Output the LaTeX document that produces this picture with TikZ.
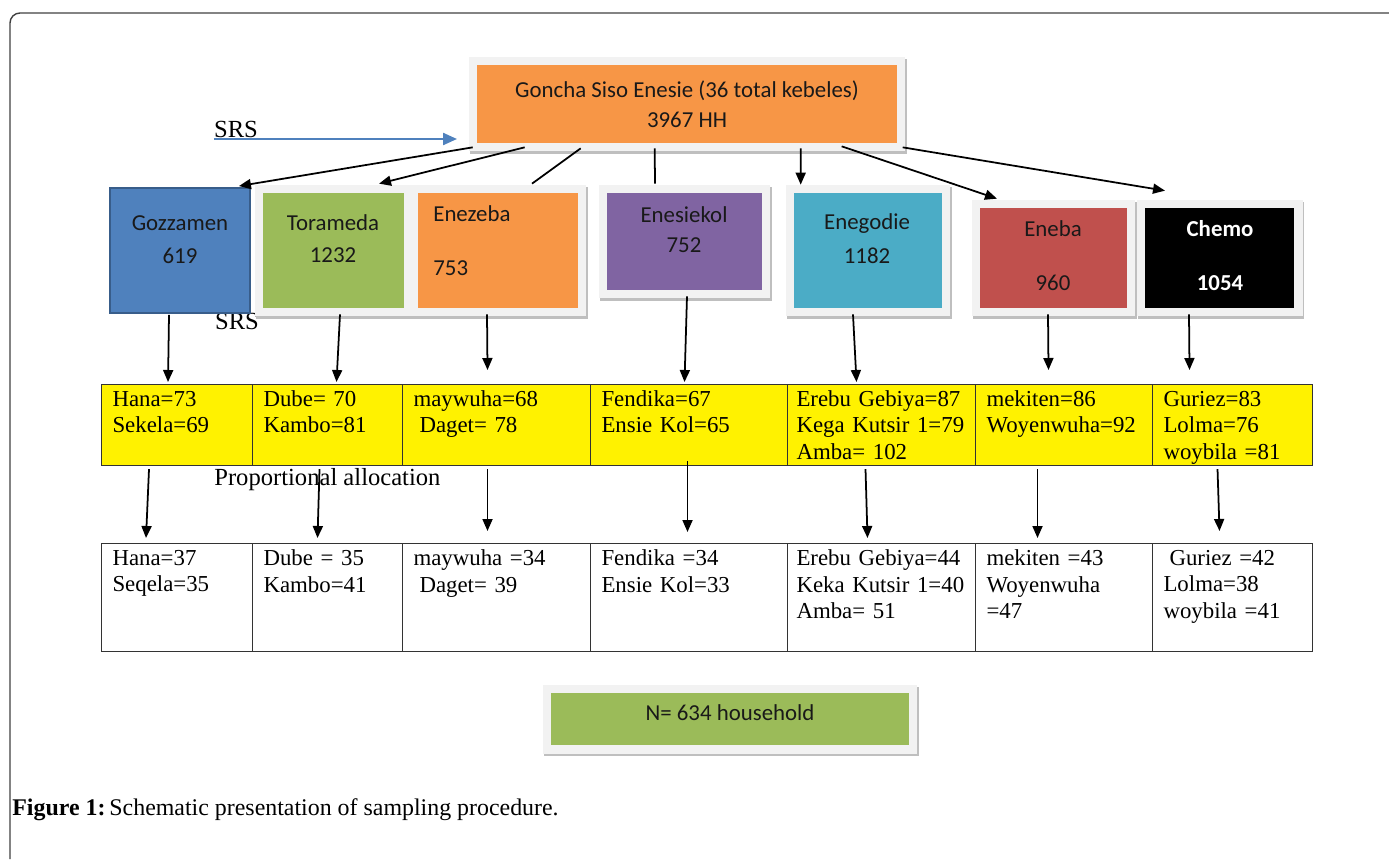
\documentclass[tikz,border=0pt]{standalone}
\usepackage{fontspec}
\setmainfont{Liberation Serif}
\newfontfamily\boxfont{Carlito}
\usetikzlibrary{arrows.meta,calc,positioning}

\definecolor{offorange}{HTML}{F79646}
\definecolor{offblue}{HTML}{4F81BD}
\definecolor{offblueline}{HTML}{385D8A}
\definecolor{offgreen}{HTML}{9BBB59}
\definecolor{offpurple}{HTML}{8064A2}
\definecolor{offcyan}{HTML}{4BACC6}
\definecolor{offred}{HTML}{C0504D}

\tikzset{
  kbox/.style={rectangle, inner sep=0pt,
    preaction={draw=black!25, line width=0.34cm, transform canvas={xshift=0.03cm,yshift=-0.05cm}},
    preaction={draw=black!5, line width=0.34cm}},
  ktxt/.style={font=\boxfont\fontsize{13}{16}\selectfont, text=black!90, align=center, inner sep=0pt},
  lbl/.style={font=\fontsize{14}{16}\selectfont, inner sep=0pt},
  ycell/.style={draw=black!80, line width=0.6pt, fill=yellow, anchor=north west, align=left,
    inner xsep=0.22cm, inner ysep=0pt, font=\fontsize{13}{15.1}\selectfont, minimum height=1.62cm},
  wcell/.style={ycell, fill=white, minimum height=2.16cm},
  arr/.style={-{Triangle[length=0.24cm,width=0.2cm]}, line width=1pt},
  srsarr/.style={-{Triangle[length=0.28cm,width=0.24cm]}, line width=1.3pt, draw=offblue},
}

\begin{document}
\begin{tikzpicture}[x=0.02cm, y=-0.02cm]
\useasboundingbox (0,0) rectangle (1389,859);
\draw[black!75, line width=0.8pt, rounded corners=0.2cm] (1389,13) -- (10,13) -- (10,859);

% top box
\node[kbox, fill=offorange, minimum width=8.4cm, minimum height=1.56cm, ktxt] (gse) at (687,104)
  {Goncha Siso Enesie (36 total kebeles)\\[1pt]3967 HH};
\node[lbl] (srs1) at (236,129) {SRS};
\coordinate (srsend) at (457,139);
\draw[srsarr] (srs1.south west |- srsend) -- (srsend);

% kebele boxes
\node[lbl] (srs2) at (237,321) {SRS};
\node[fill=offblue, draw=offblueline, line width=1.1pt, minimum width=2.8cm, minimum height=2.5cm, inner sep=0pt] (goz) at (180,250.5) {};
\node[kbox, fill=offgreen, minimum width=2.82cm, minimum height=2.3cm] (tor) at (333.5,250.5) {};
\node[kbox, fill=offorange, minimum width=3.2cm, minimum height=2.3cm] (enz) at (498,250.5) {};
\node[kbox, fill=offpurple, minimum width=3.1cm, minimum height=1.94cm] (enk) at (684.5,241.5) {};
\node[kbox, fill=offcyan, minimum width=2.96cm, minimum height=2.3cm] (eng) at (868,250.5) {};
\node[kbox, fill=offred, minimum width=2.94cm, minimum height=2cm] (enb) at (1053.5,258) {};
\node[kbox, fill=black, minimum width=2.98cm, minimum height=2cm] (che) at (1219.5,258) {};

\node[ktxt] (goz-t) at (180,239.5) {Gozzamen\\[2.8pt]619};
\node[ktxt] (tor-t) at (333,239) {Torameda\\[2.2pt]1232};
\node[ktxt, align=left, anchor=west] (enz-t) at (433,241) {Enezeba\\[14.7pt]753};
\node[ktxt] (enk-t) at (684,230) {Enesiekol\\[1.1pt]752};
\node[ktxt] (eng-t) at (867,239) {Enegodie\\[3.3pt]1182};
\node[ktxt] (enb-t) at (1053,256) {Eneba\\[14.7pt]960};
\node[ktxt, text=white, font=\boxfont\bfseries\fontsize{13}{16}\selectfont] (che-t) at (1220,256) {Chemo\\[14.7pt]1054};

% arrows from the top box
\draw[arr] ($(gse.south west)+(-4,4)$) -- ($(goz.north east)+(-12,-1)$);
\draw[arr] ($(gse.south west)+(48,4)$) -- ($(tor.north)+(45.5,-9)$);
\draw[line width=1pt] ($(gse.south west)+(104,5)$) -- ($(enz.north)+(34,-9)$);
\draw[line width=1pt] ($(gse.south west)+(178,5)$) -- ($(enk.north)+(-29.5,-9)$);
\draw[arr] ($(gse.south west)+(324,5)$) -- ($(eng.north)+(-67.3,-8)$);
\draw[arr] ($(gse.south west)+(365,3)$) -- ($(enb.north)+(-56.5,-9)$);
\draw[arr] ($(gse.south west)+(426,4)$) -- ($(che.north)+(-54.5,-17)$);

% first table
\node[ycell, text width=2.58cm] (y1) at (101,384) {Hana=73\\Sekela=69\\\mbox{}};
\node[ycell, text width=2.56cm] (y2) at (252,384) {Dube= 70\\Kambo=81\\\mbox{}};
\node[ycell, text width=3.32cm] (y3) at (402,384) {maywuha=68\\\hspace*{0.12cm}Daget= 78\\\mbox{}};
\node[ycell, text width=3.50cm] (y4) at (590,384) {Fendika=67\\Ensie Kol=65\\\mbox{}};
\node[ycell, inner xsep=0.18cm, text width=3.40cm] (y5) at (787,384) {\mbox{Erebu Gebiya=87}\\\mbox{Kega Kutsir 1=79}\\Amba= 102};
\node[ycell, text width=3.10cm] (y6) at (975,384) {mekiten=86\\Woyenwuha=92\\\mbox{}};
\node[ycell, text width=2.76cm] (y7) at (1152,384) {Guriez=83\\Lolma=76\\\smash{woybila =81}};

\draw[arr] ($(goz.south)+(-11,1)$) -- ($(y1.north)+(-9,-2)$);
\draw[arr] ($(tor.south)+(6.5,6)$) -- ($(y2.north)+(9,-2)$);
\draw[arr] ($(enz.south)+(-11,6)$) -- ($(y3.north)+(-9,-14)$);
\draw[arr] ($(enk.south)+(2.5,6)$) -- ($(y4.north)+(-4.5,-2)$);
\draw[arr] ($(eng.south)+(-15,6)$) -- ($(y5.north)+(-25,-2)$);
\draw[arr] ($(enb.south)+(-5.5,6)$) -- ($(y6.north)+(-15.5,-14)$);
\draw[arr] ($(che.south)+(-30.5,6)$) -- ($(y7.north)+(-43,-14)$);

% second table
\node[lbl, anchor=west] (prop) at (214,480) {Proportional allocation};
\node[wcell, text width=2.58cm] (w1) at (101,543) {Hana=37\\Seqela=35\\\mbox{}\\\mbox{}};
\node[wcell, text width=2.56cm] (w2) at (252,543) {Dube = 35\\Kambo=41\\\mbox{}\\\mbox{}};
\node[wcell, text width=3.32cm] (w3) at (402,543) {maywuha =34\\\hspace*{0.12cm}Daget= 39\\\mbox{}\\\mbox{}};
\node[wcell, text width=3.50cm] (w4) at (590,543) {Fendika =34\\Ensie Kol=33\\\mbox{}\\\mbox{}};
\node[wcell, inner xsep=0.18cm, text width=3.40cm] (w5) at (787,543) {\mbox{Erebu Gebiya=44}\\\mbox{Keka Kutsir 1=40}\\Amba= 51\\\mbox{}};
\node[wcell, text width=3.10cm] (w6) at (975,543) {mekiten =43\\Woyenwuha\\=47\\\mbox{}};
\node[wcell, text width=2.76cm] (w7) at (1152,543) {\hspace*{0.12cm}Guriez =42\\Lolma=38\\woybila =41\\\mbox{}};

\draw[arr] ($(y1.south)+(-28,3)$) -- ($(w1.north)+(-31,-5)$);
\draw[arr] ($(y2.south)+(-8,3)$) -- ($(w2.north)+(-10,-5)$);
\draw[arr] ($(y3.south)+(-9,3)$) -- ($(w3.north)+(-9,-12)$);
\draw[arr] ($(y4.south)+(-1.5,-5)$) -- ($(w4.north)+(-1.5,-11)$);
\draw[arr] ($(y5.south)+(-16,3)$) -- ($(w5.north)+(-14,-5)$);
\draw[arr] ($(y6.south)+(-26.5,3)$) -- ($(w6.north)+(-26.5,-5)$);
\draw[arr] ($(y7.south)+(-15,3)$) -- ($(w7.north)+(-13,-12)$);

% total
\node[kbox, fill=offgreen, minimum width=7.16cm, minimum height=1.04cm, ktxt, text depth=0.24cm] (nbox) at (730,719) {N= 634 household};

\node[anchor=west, inner sep=0pt, font=\fontsize{13.6}{16}\selectfont] (cap) at (12,810)
  {\textbf{Figure 1:}\hspace{-0.08cm} Schematic presentation of sampling procedure.};
\end{tikzpicture}
\end{document}
